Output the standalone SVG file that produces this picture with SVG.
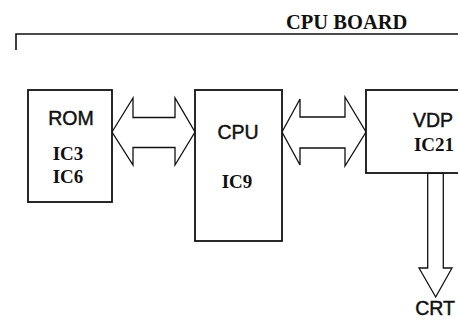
<svg xmlns="http://www.w3.org/2000/svg" width="458" height="320" viewBox="0 0 458 320">
<style>
.box{fill:#fff;stroke:#111;stroke-width:1.8}
.bus{fill:#fff;stroke:#111;stroke-width:1.3;stroke-linejoin:miter}
.board{fill:none;stroke:#111;stroke-width:1.6}
.sans{font-family:"Liberation Sans",Arial,sans-serif;font-size:19.5px;fill:#111;stroke:#111;stroke-width:0.45;text-anchor:middle}
.serif{font-family:"Liberation Serif","Times New Roman",serif;font-size:19px;font-weight:bold;fill:#111;text-anchor:middle}
.title{font-family:"Liberation Serif","Times New Roman",serif;font-size:20.5px;font-weight:bold;fill:#111}
</style>
<rect width="458" height="320" fill="#fff"/>
<g id="board">
<polyline class="board" points="16,50 16,34 458,34"/>
<text class="title" x="286" y="28.5">CPU BOARD</text>
</g>
<g id="connectors">
<polygon class="bus" points="112,132 133,98 133,117.5 175,117.5 175,98 195,132 175,165 175,147.5 133,147.5 133,165"/>
<polygon class="bus" points="282,132 300,99 300,117 345,117 345,97 366,132 345,166 345,148 300,148 300,165"/>
<polygon class="bus" points="427.7,173 443.3,173 443.3,268 452,268 435.7,297 419,268 427.7,268"/>
</g>
<g id="rom">
<rect class="box" x="28" y="90" width="84" height="112"/>
<text class="sans" x="71" y="125">ROM</text>
<text class="serif" x="68" y="160">IC3</text>
<text class="serif" x="68" y="183">IC6</text>
</g>
<g id="cpu">
<rect class="box" x="195" y="90" width="87" height="151"/>
<text class="sans" x="238" y="138.5">CPU</text>
<text class="serif" x="237" y="188">IC9</text>
</g>
<g id="vdp">
<rect class="box" x="366" y="90" width="100" height="83"/>
<text class="sans" x="433" y="126.5">VDP</text>
<text class="serif" x="434" y="151">IC21</text>
</g>
<g id="crt">
<text class="sans" x="435" y="315">CRT</text>
</g>
</svg>
